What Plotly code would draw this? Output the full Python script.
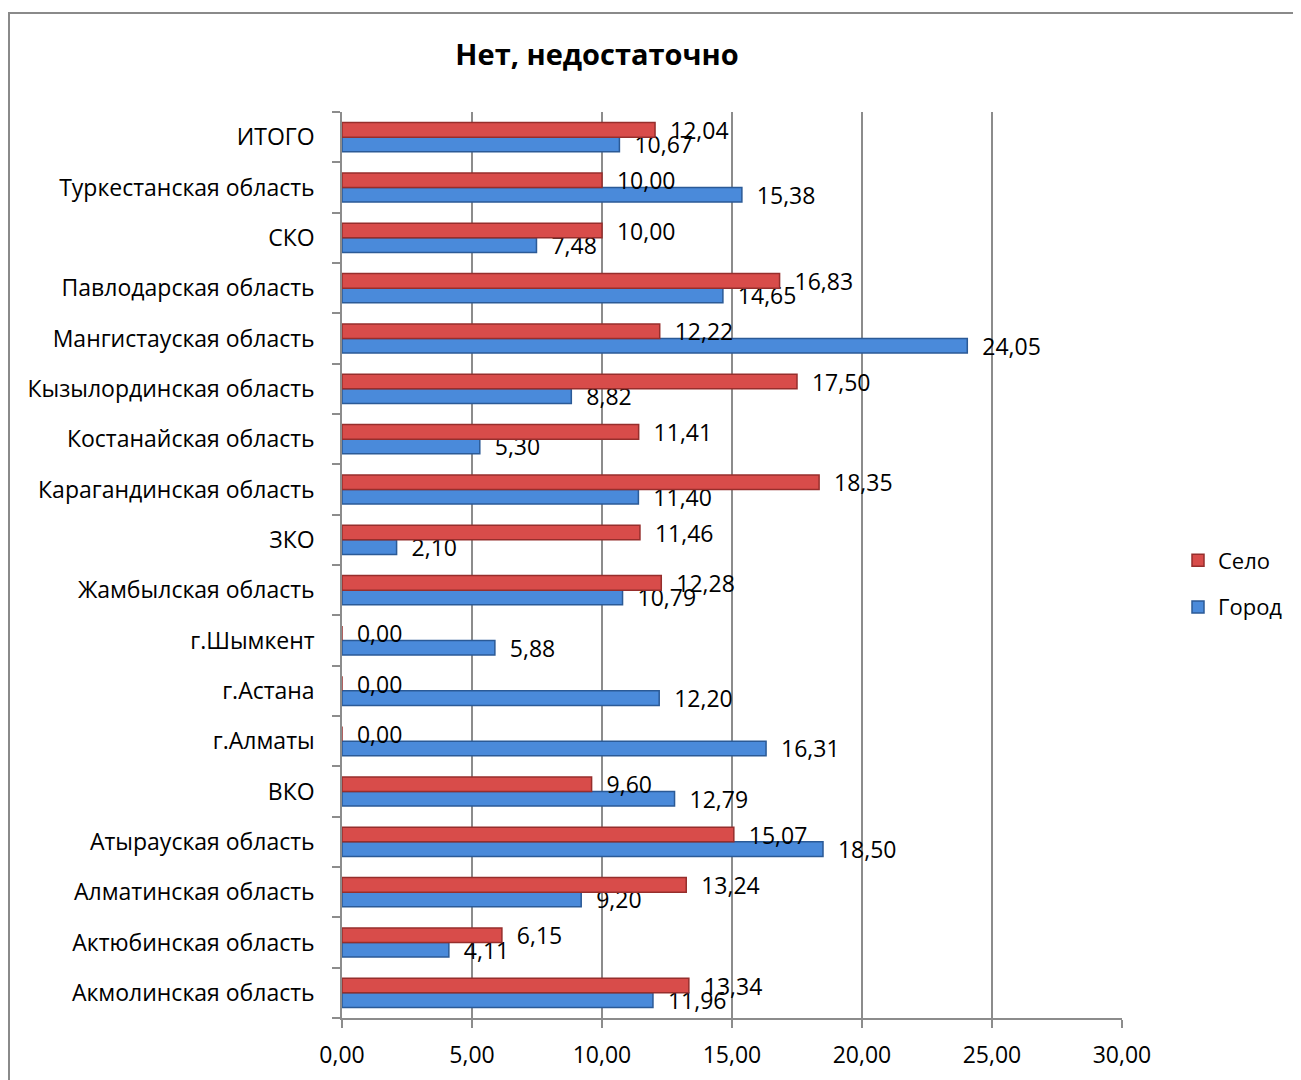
import plotly.graph_objects as go

categories = [
    "Акмолинская область", "Актюбинская область", "Алматинская область",
    "Атырауская область", "ВКО", "г.Алматы", "г.Астана", "г.Шымкент",
    "Жамбылская область", "ЗКО", "Карагандинская область", "Костанайская область",
    "Кызылординская область", "Мангистауская область", "Павлодарская область",
    "СКО", "Туркестанская область", "ИТОГО",
]
gorod = [11.96, 4.11, 9.20, 18.50, 12.79, 16.31, 12.20, 5.88, 10.79, 2.10,
         11.40, 5.30, 8.82, 24.05, 14.65, 7.48, 15.38, 10.67]
selo = [13.34, 6.15, 13.24, 15.07, 9.60, 0.00, 0.00, 0.00, 12.28, 11.46,
        18.35, 11.41, 17.50, 12.22, 16.83, 10.00, 10.00, 12.04]
x_ticks = [0, 5, 10, 15, 20, 25, 30]

FONT = "Open Sans"
OFF = 8  # browser body margin
W, H = 1301, 1080
# target plot area in page pixels: x 342..1122, y 112..1018
L = 342 - OFF
T = 112 - OFF
R = W - (1122 - OFF)
B = H - (1018 - OFF)
pw, ph = W - L - R, H - T - B


def px_x(page_x):
    return (page_x - OFF - L) / pw


def px_y(page_y):
    return (H - B - (page_y - OFF)) / ph


pad = "\u00a0\u00a0"

fig = go.Figure()
fig.add_trace(go.Bar(
    y=categories, x=gorod, orientation="h", name="Город", legendgroup="g",
    legendrank=2,
    marker=dict(color="#4A8ADA", line=dict(color="#2B5A96", width=1.5)),
    text=[pad + f"{v:.2f}".replace(".", ",") for v in gorod],
    textposition="outside", constraintext="none", cliponaxis=False,
    textfont=dict(family=FONT, size=23, color="#000000"),
))
fig.add_trace(go.Bar(
    y=categories, x=selo, orientation="h", name="Село", legendgroup="s",
    legendrank=1,
    marker=dict(color="#D84C4A", line=dict(color="#962E2C", width=1.5)),
    text=[pad + f"{v:.2f}".replace(".", ",") for v in selo],
    textposition="outside", constraintext="none", cliponaxis=False,
    textfont=dict(family=FONT, size=23, color="#000000"),
))

fig.update_layout(
    width=W, height=H,
    margin=dict(l=L, r=R, t=T, b=B),
    paper_bgcolor="white", plot_bgcolor="white",
    separators=", ",
    barmode="group", bargap=0.42, bargroupgap=0.0,
    font=dict(family=FONT, size=23, color="#000000"),
    title=dict(text="<b>Нет, недостаточно</b>", font=dict(family=FONT, size=29, color="#000000"),
               xref="paper", x=px_x(597), xanchor="center",
               yref="container", y=1 - (55 - OFF) / H, yanchor="middle"),
    showlegend=True,
    legend=dict(traceorder="grouped", x=px_x(1178), xanchor="left",
                y=px_y(584), yanchor="middle",
                font=dict(family=FONT, size=22), itemwidth=30, tracegroupgap=15,
                bgcolor="rgba(0,0,0,0)"),
    xaxis=dict(range=[0, 30], tickvals=x_ticks, tickformat=".2f",
               showgrid=True, gridcolor="#8C8C8C", gridwidth=1.5,
               showline=True, linecolor="#8C8C8C", linewidth=1.5,
               ticks="outside", ticklen=8, tickcolor="#8C8C8C", tickwidth=1.5,
               zeroline=False, tickfont=dict(family=FONT, size=23),
               ticklabelstandoff=8),
    yaxis=dict(categoryorder="array", categoryarray=categories,
               showline=True, linecolor="#8C8C8C", linewidth=1.5,
               ticks="outside", tickson="boundaries", ticklen=8,
               tickcolor="#8C8C8C", tickwidth=1.5, showgrid=False,
               tickfont=dict(family=FONT, size=23), ticklabelstandoff=21),
    shapes=[dict(type="rect", xref="paper", yref="paper",
                 x0=px_x(9), x1=px_x(1340),
                 y0=px_y(1100), y1=px_y(13),
                 line=dict(color="#8A8A8A", width=2), fillcolor="rgba(0,0,0,0)",
                 layer="below")],
)

fig.write_html("out.html")
